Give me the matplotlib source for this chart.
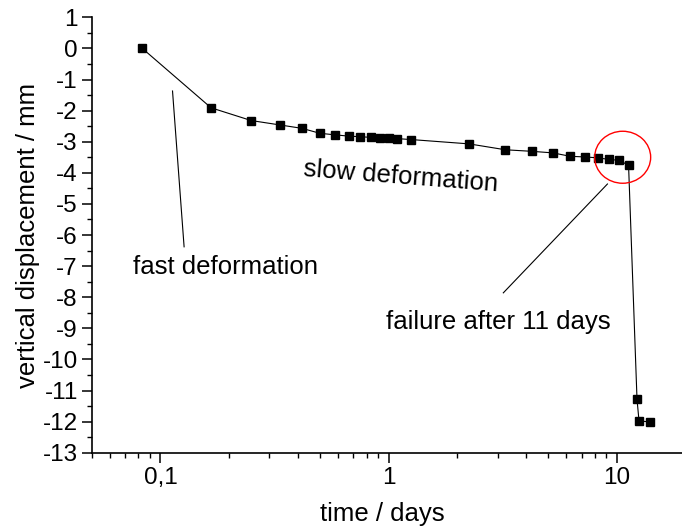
import matplotlib
matplotlib.use("Agg")
import matplotlib.pyplot as plt
from matplotlib.patches import Ellipse
from matplotlib.transforms import IdentityTransform
from matplotlib.ticker import FixedLocator, LogLocator, MultipleLocator, NullFormatter, FuncFormatter

plt.rcParams['font.family'] = ['Liberation Sans', 'DejaVu Sans']
plt.rcParams['axes.unicode_minus'] = False

time_days = [0.0833, 0.1667, 0.25, 0.333, 0.4167, 0.5, 0.583, 0.667, 0.75, 0.833,
             0.917, 1.0, 1.083, 1.25, 2.25, 3.25, 4.25, 5.25, 6.25, 7.25,
             8.25, 9.25, 10.25, 11.25, 12.25, 12.5, 14.0]
displacement = [0.0, -1.91, -2.32, -2.46, -2.57, -2.73, -2.78, -2.82, -2.84, -2.86,
                -2.87, -2.89, -2.90, -2.93, -3.07, -3.26, -3.31, -3.36, -3.47, -3.49,
                -3.52, -3.57, -3.60, -3.76, -11.28, -11.98, -12.01]

xtick_values = [0.1, 1, 10]
xtick_labels = ["0,1", "1", "10"]
ytick_values = list(range(1, -14, -1))

FS = 17.5
FT = 18.5

fig = plt.figure(figsize=(6.82, 5.28), dpi=100)
ax = fig.add_axes([91.7/682, 1 - 452.7/528, (685.6 - 91.7)/682, (452.7 - 17.3)/528])

ax.plot(time_days, displacement, color='black', lw=0.8, marker='s', markersize=5.5,
        markerfacecolor='black', markeredgecolor='black')

ax.set_xscale('log')
ax.set_xlim(0.05, 20)
ax.set_ylim(-13, 1)

ax.xaxis.set_major_locator(FixedLocator(xtick_values))
ax.xaxis.set_major_formatter(FuncFormatter(lambda v, p: xtick_labels[xtick_values.index(v)] if v in xtick_values else ""))
ax.xaxis.set_minor_locator(LogLocator(base=10, subs=range(2, 10)))
ax.xaxis.set_minor_formatter(NullFormatter())
ax.yaxis.set_major_locator(FixedLocator(ytick_values))
ax.yaxis.set_minor_locator(MultipleLocator(0.5))

for s in ['top', 'right']:
    ax.spines[s].set_visible(False)
for s in ['left', 'bottom']:
    ax.spines[s].set_linewidth(1.2)

ax.tick_params(which='major', direction='out', length=7, width=1.1, labelsize=FS, pad=3)
ax.tick_params(which='minor', direction='out', length=3.5, width=1.0)

ax.set_xlabel("time / days", fontsize=FT)
ax.xaxis.set_label_coords((382 - 91.7) / (685.6 - 91.7), -0.114)
ax.set_ylabel("vertical displacement / mm", fontsize=FT, labelpad=2)

# annotations
ax.plot([0.113, 0.127], [-1.37, -6.38], color='black', lw=0.8)
ax.text(0.193, -7.03, "fast deformation", fontsize=FT, ha='center', va='center')
ax.text(1.135, -4.13, "slow deformation", fontsize=FT, ha='center', va='center', rotation=-4.5)
ax.plot([9.09, 3.18], [-4.36, -7.86], color='black', lw=0.8)
ax.text(3.02, -8.79, "failure after 11 days", fontsize=FT, ha='center', va='center')

fig.canvas.draw()
cx, cy = ax.transData.transform((10.6, -3.5))
ell = Ellipse((cx, cy), 56, 52, transform=IdentityTransform(), fill=False,
              edgecolor='red', lw=1.0)
fig.add_artist(ell)

fig.savefig("out.png", dpi=100)
